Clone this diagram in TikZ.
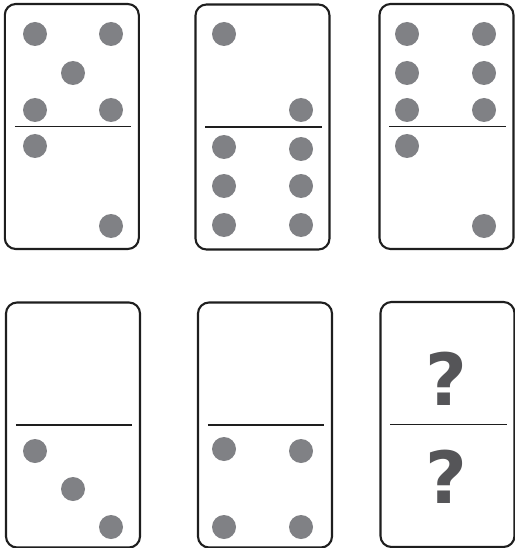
\documentclass[tikz,border=0pt]{standalone}
\usepackage{fontspec}
\newfontfamily\markfont{DejaVu Sans}
\usetikzlibrary{calc}

\definecolor{pipgray}{RGB}{128,129,133}
\definecolor{markgray}{RGB}{85,85,88}
\definecolor{edgeblack}{RGB}{30,30,30}

\begin{document}
\begin{tikzpicture}[
    x=1pt, y=-1pt,
    tile/.style={draw=edgeblack, line width=2.1pt, rounded corners=11pt, fill=white,
                 minimum width=134pt, minimum height=245pt, inner sep=0pt},
    pip/.style={circle, fill=pipgray, minimum size=24pt, inner sep=0pt},
    divider/.style={draw=edgeblack, line width=1.9pt},
    unknown/.style={text=markgray, inner sep=0pt,
                    font=\markfont\bfseries\fontsize{72}{72}\selectfont}
  ]
  \useasboundingbox (0,0) rectangle (514,548);

  % top row
  \node[tile] (d1) at (71.8,126.5) {};
  \node[tile] (d2) at (262.5,127) {};
  \node[tile] (d3) at (446.5,126.5) {};
  % bottom row
  \node[tile] (d4) at (73,425) {};
  \node[tile] (d5) at (265,425) {};
  \node[tile] (d6) at (447.5,424.5) {};

  \foreach \t in {d1,d2,d3,d4,d5,d6}
    \draw[divider] ($(\t.west)+(11,0)$) -- ($(\t.east)+(-9,0)$);

  % domino 1: five over two
  \node[pip] (p11) at (35,34) {};
  \node[pip] (p12) at (111,34) {};
  \node[pip] (p13) at (73,73) {};
  \node[pip] (p14) at (35,110) {};
  \node[pip] (p15) at (111,110) {};
  \node[pip] (p16) at (35,146) {};
  \node[pip] (p17) at (111,226) {};

  % domino 2: two over six
  \node[pip] (p21) at (224,34) {};
  \node[pip] (p22) at (301,110) {};
  \node[pip] (p23) at (224,147) {};
  \node[pip] (p24) at (301,149) {};
  \node[pip] (p25) at (224,186) {};
  \node[pip] (p26) at (301,186) {};
  \node[pip] (p27) at (224,225) {};
  \node[pip] (p28) at (301,225) {};

  % domino 3: six over two
  \node[pip] (p31) at (407,34) {};
  \node[pip] (p32) at (484,34) {};
  \node[pip] (p33) at (407,73) {};
  \node[pip] (p34) at (484,73) {};
  \node[pip] (p35) at (407,110) {};
  \node[pip] (p36) at (484,110) {};
  \node[pip] (p37) at (407,146) {};
  \node[pip] (p38) at (484,226) {};

  % domino 4: blank over three
  \node[pip] (p41) at (35,451) {};
  \node[pip] (p42) at (73,489) {};
  \node[pip] (p43) at (111,527) {};

  % domino 5: blank over four
  \node[pip] (p51) at (224,449) {};
  \node[pip] (p52) at (301,451) {};
  \node[pip] (p53) at (224,527) {};
  \node[pip] (p54) at (301,527) {};

  % domino 6: unknown
  \node[unknown] (q1) at (446,379) {?};
  \node[unknown] (q2) at (446,477) {?};
\end{tikzpicture}
\end{document}
